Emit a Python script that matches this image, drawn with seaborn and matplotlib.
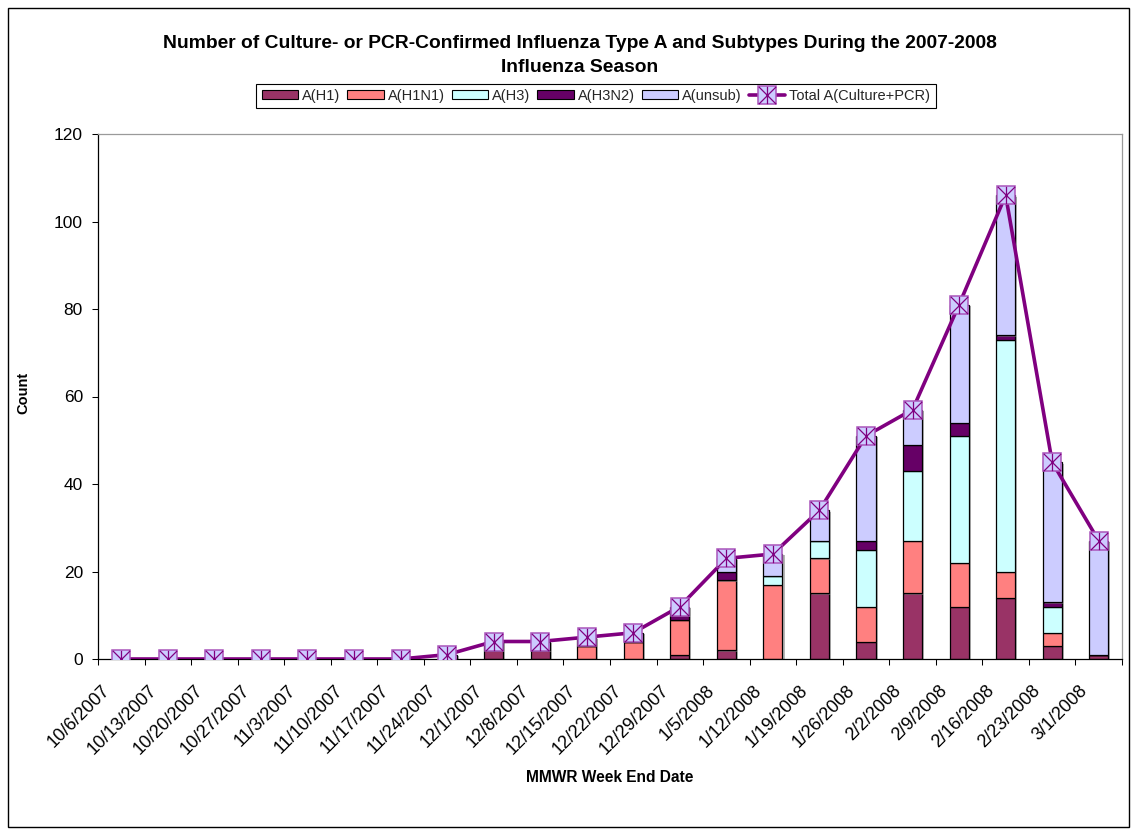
import numpy as np
import matplotlib
matplotlib.use("Agg")
import matplotlib.pyplot as plt
import seaborn as sns
import matplotlib.patheffects as pe
from matplotlib.patches import Patch, Rectangle
from matplotlib.lines import Line2D
from matplotlib.path import Path
from matplotlib.legend_handler import HandlerTuple
from matplotlib.transforms import ScaledTranslation

# MMWR week end dates
weeks = ["10/6/2007", "10/13/2007", "10/20/2007", "10/27/2007", "11/3/2007",
         "11/10/2007", "11/17/2007", "11/24/2007", "12/1/2007", "12/8/2007",
         "12/15/2007", "12/22/2007", "12/29/2007", "1/5/2008", "1/12/2008",
         "1/19/2008", "1/26/2008", "2/2/2008", "2/9/2008", "2/16/2008",
         "2/23/2008", "3/1/2008"]

# Weekly counts per subtype (stacked bottom to top)
h1 = [0, 0, 0, 0, 0, 0, 0, 0, 2, 2, 0, 0, 1, 2, 0, 15, 4, 15, 12, 14, 3, 1]
h1n1 = [0, 0, 0, 0, 0, 0, 0, 0, 0, 0, 3, 4, 8, 16, 17, 8, 8, 12, 10, 6, 3, 0]
h3 = [0, 0, 0, 0, 0, 0, 0, 0, 0, 0, 0, 0, 0, 0, 2, 4, 13, 16, 29, 53, 6, 0]
h3n2 = [0, 0, 0, 0, 0, 0, 0, 0, 0, 0, 0, 0, 1, 2, 0, 0, 2, 6, 3, 1, 1, 0]
unsub = [0, 0, 0, 0, 0, 0, 0, 1, 2, 2, 2, 2, 2, 3, 5, 7, 24, 8, 27, 32, 32, 26]

# Total A (culture + PCR)
total = [0, 0, 0, 0, 0, 0, 0, 1, 4, 4, 5, 6, 12, 23, 24, 34, 51, 57, 81, 106, 45, 27]

series_names = ["A(H1)", "A(H1N1)", "A(H3)", "A(H3N2)", "A(unsub)"]
series_colors = ["#993366", "#FF8080", "#CCFFFF", "#660066", "#CCCCFF"]
line_label = "Total A(Culture+PCR)"

sns.set_theme(style="white")
plt.rcParams["font.family"] = ["Liberation Sans", "DejaVu Sans"]

W, H = 1136, 832
fig = plt.figure(figsize=(W / 100, H / 100), dpi=100)
fig.patch.set_facecolor("white")
ax = fig.add_axes([98 / W, (H - 659) / H, (1122 - 98) / W, (659 - 134) / H])
ax.set_facecolor("white")

# stacked columns
base = np.zeros(len(weeks))
for vals, col in zip([h1, h1n1, h3, h3n2, unsub], series_colors):
    sns.barplot(x=weeks, y=vals, bottom=base.copy(), color=col, saturation=1,
                width=0.41, edgecolor="black", linewidth=0.9, errorbar=None,
                ax=ax, zorder=2)
    base += np.asarray(vals, dtype=float)

shadow = [pe.SimplePatchShadow(offset=(1.5, -1.0), shadow_rgbFace="#7a7a7a", alpha=0.55),
          pe.Normal()]
for p in ax.patches:
    if p.get_height() > 0:
        p.set_path_effects(shadow)

# total line with boxed-star markers
star = Path([(-1, -1), (1, 1), (-1, 1), (1, -1), (0, -1), (0, 1)],
            [Path.MOVETO, Path.LINETO, Path.MOVETO, Path.LINETO, Path.MOVETO, Path.LINETO])
sns.pointplot(x=weeks, y=total, color="#800080", markers="s", linestyles="-",
              errorbar=None, ax=ax, linewidth=2.6, markersize=13,
              markerfacecolor="#CCCCFF", markeredgecolor="#AA55BB",
              markeredgewidth=1.1, zorder=4)
sns.pointplot(x=weeks, y=total, color="#800080", markers=star, linestyles="none",
              errorbar=None, ax=ax, linewidth=1.0, markersize=12.5,
              markeredgewidth=0.9, zorder=5)

# axes styling
n = len(weeks)
ax.set_xlim(-0.5, n - 0.5)
ax.set_ylim(0, 120)
ax.set_yticks(np.arange(0, 121, 20))
ax.set_xticks(np.arange(n))
ax.set_xticklabels(weeks, rotation=45, ha="right", rotation_mode="default")
ax.set_xticks(np.arange(n + 1) - 0.5, minor=True)
ax.set_xlabel("")
ax.set_ylabel("")

ax.tick_params(axis="y", which="major", direction="out", length=4.3, width=0.75,
               color="black", labelsize=12.5, pad=6.5, left=True, labelcolor="black")
ax.tick_params(axis="x", which="major", length=0, labelsize=13, pad=16.5,
               labelcolor="black")
ax.tick_params(axis="x", which="minor", direction="out", length=4.3, width=0.75,
               color="black", bottom=True)

for side in ["left", "bottom"]:
    ax.spines[side].set_color("black")
    ax.spines[side].set_linewidth(0.9)
for side in ["top", "right"]:
    ax.spines[side].set_color("#9a9a9a")
    ax.spines[side].set_linewidth(0.9)
ax.grid(False)

# titles
fig.text(580 / W, 1 - 44 / H,
         "Number of Culture- or PCR-Confirmed Influenza Type A and Subtypes During the 2007-2008",
         ha="center", va="center", fontsize=13.9, fontweight="bold", color="black")
fig.text(580 / W, 1 - 68 / H, "Influenza Season",
         ha="center", va="center", fontsize=13.9, fontweight="bold", color="black")
fig.text(23 / W, 1 - 393 / H, "Count", rotation=90, ha="center", va="center",
         fontsize=10.5, fontweight="bold", color="black")
fig.text(610 / W, 1 - 777 / H, "MMWR Week End Date", ha="center", va="center",
         fontsize=11.2, fontweight="bold", color="black")

# legend
handles = [Patch(facecolor=c, edgecolor="black", linewidth=0.8) for c in series_colors]
line_h = Line2D([], [], color="#800080", linewidth=2.6, marker="s", markersize=13,
                markerfacecolor="#CCCCFF", markeredgecolor="#AA55BB", markeredgewidth=1.1)
star_h = Line2D([], [], color="#800080", linestyle="none", marker=star,
                markersize=12.5, markeredgewidth=0.9)
handles.append((line_h, star_h))
leg = fig.legend(handles, series_names + [line_label], loc="center",
                 bbox_to_anchor=(596 / W, 1 - 96 / H), ncol=6, frameon=True,
                 fancybox=False, edgecolor="black", fontsize=10.5,
                 handlelength=2.5, handleheight=0.6, handletextpad=0.3,
                 columnspacing=0.45, borderpad=0.35, borderaxespad=0,
                 handler_map={tuple: HandlerTuple(ndivide=1)})
leg.get_frame().set_linewidth(0.8)
leg.get_frame().set_alpha(1)

# outer chart border
fig.add_artist(Rectangle((7.5 / W, 5 / H), (1129 - 7.5) / W, (824 - 5) / H,
                         transform=fig.transFigure, fill=False,
                         edgecolor="black", linewidth=1.0))

# shift rotated date labels slightly left of their category centres
fig.canvas.draw()
shift = ScaledTranslation(-8 / 100, 0, fig.dpi_scale_trans)
for lbl in ax.get_xticklabels():
    lbl.set_transform(lbl.get_transform() + shift)

fig.savefig("out.png", dpi=100, facecolor="white")
